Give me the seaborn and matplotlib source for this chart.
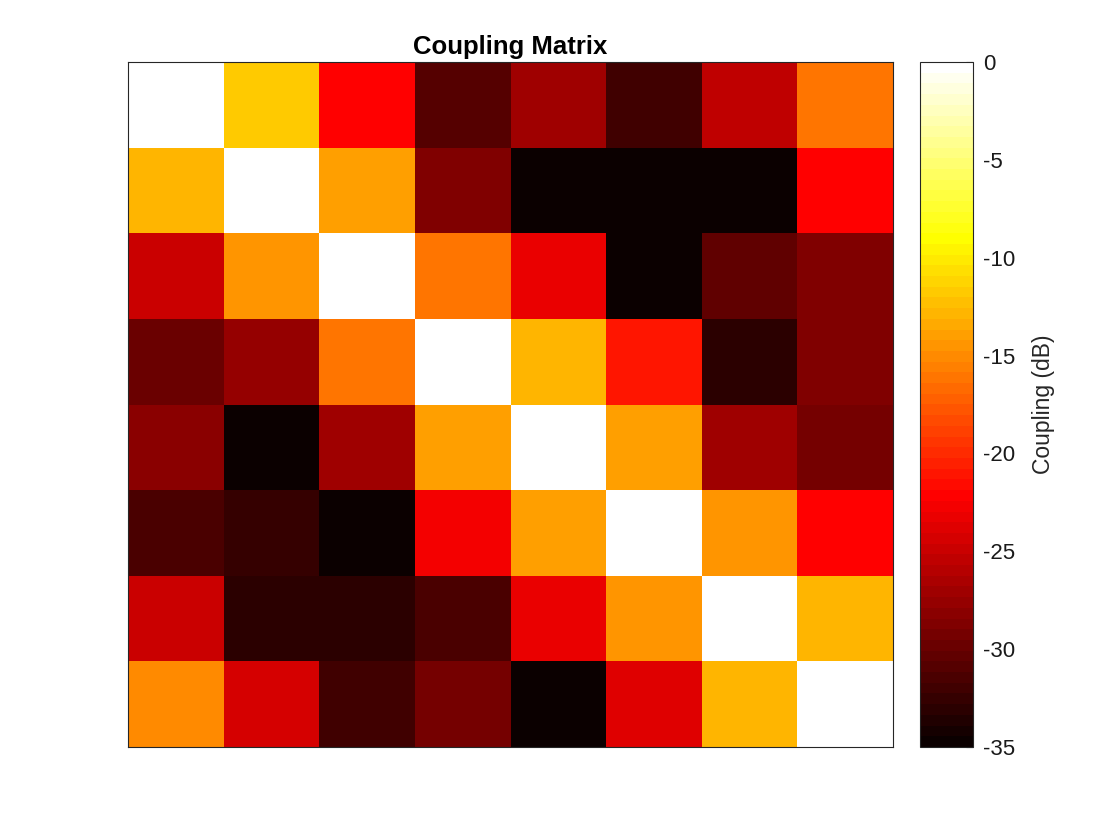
import numpy as np
import pandas as pd
import matplotlib
matplotlib.use("Agg")
import matplotlib.pyplot as plt
from matplotlib.colors import ListedColormap
import seaborn as sns

# Coupling values in dB (rows top to bottom, columns left to right)
row1 = [0.0, -11.8, -22.1, -30.9, -27.1, -32.0, -25.4, -16.1]
row2 = [-12.8, 0.0, -13.9, -28.7, -34.7, -34.7, -34.7, -22.1]
row3 = [-24.9, -14.5, 0.0, -16.1, -23.2, -34.7, -30.3, -28.7]
row4 = [-29.8, -27.6, -16.1, 0.0, -12.8, -21.0, -33.1, -28.7]
row5 = [-28.2, -34.7, -27.1, -13.9, 0.0, -13.9, -27.1, -29.3]
row6 = [-31.4, -32.5, -34.7, -22.7, -13.9, 0.0, -14.5, -22.1]
row7 = [-24.9, -33.1, -33.1, -31.4, -23.2, -14.5, 0.0, -12.8]
row8 = [-15.0, -24.3, -32.0, -29.3, -34.7, -23.8, -12.8, 0.0]
cbar_ticks = [0, -5, -10, -15, -20, -25, -30, -35]

data = pd.DataFrame([row1, row2, row3, row4, row5, row6, row7, row8])

# MATLAB-style hot(64) colormap
m = 64
n = int(3 / 8 * m)
r = np.concatenate([np.arange(1, n + 1) / n, np.ones(m - n)])
g = np.concatenate([np.zeros(n), np.arange(1, n + 1) / n, np.ones(m - 2 * n)])
b = np.concatenate([np.zeros(2 * n), np.arange(1, m - 2 * n + 1) / (m - 2 * n)])
hot = ListedColormap(np.column_stack([r, g, b]))

sns.set_style("white")
plt.rcParams['font.family'] = ['Liberation Sans', 'DejaVu Sans']
plt.rcParams['axes.unicode_minus'] = False

fig = plt.figure(figsize=(11.2, 8.4), dpi=100)
W, H = 1120, 840
ax = fig.add_axes([128 / W, (H - 747) / H, (893 - 128) / W, (747 - 62) / H])
cax = fig.add_axes([920 / W, (H - 747) / H, (973 - 920) / W, (747 - 62) / H])

sns.heatmap(data, ax=ax, cmap=hot, vmin=-35, vmax=0, cbar=True, cbar_ax=cax,
            xticklabels=False, yticklabels=False, square=False)

ax.set_title("Coupling Matrix", fontsize=18.5, fontweight='bold', color='black', pad=6)
for s in ax.spines.values():
    s.set_visible(True)
    s.set_color('#262626')
    s.set_linewidth(0.8)

cb = ax.collections[0].colorbar
cb.set_ticks(cbar_ticks)
cb.ax.tick_params(direction='in', length=5, width=0.8, colors='#262626',
                  labelsize=16, labelcolor='#1a1a1a', right=True, pad=7)
cb.outline.set_visible(True)
cb.outline.set_edgecolor('#262626')
cb.outline.set_linewidth(0.8)
cb.set_label("Coupling (dB)", fontsize=16.5, color='#262626', labelpad=12)

fig.savefig("out.png", dpi=100, facecolor='white')
